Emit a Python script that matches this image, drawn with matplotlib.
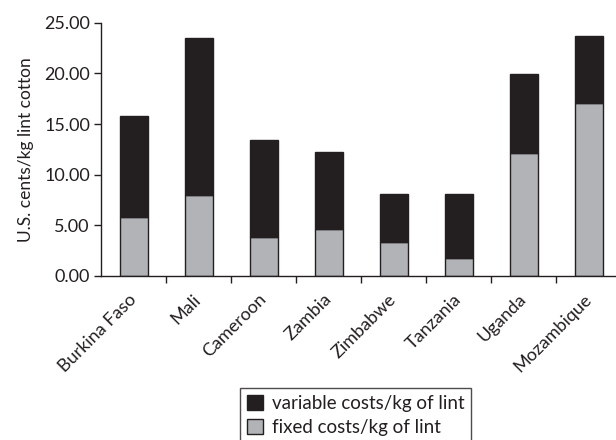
import matplotlib
matplotlib.use("Agg")
import matplotlib.pyplot as plt
import numpy as np
from matplotlib.ticker import FixedLocator, NullFormatter

countries = ["Burkina Faso", "Mali", "Cameroon", "Zambia", "Zimbabwe", "Tanzania", "Uganda", "Mozambique"]
fixed_costs = [5.83, 8.0, 3.85, 4.64, 3.30, 1.72, 12.12, 17.1]
total_costs = [15.8, 23.49, 13.44, 12.25, 8.14, 8.14, 19.96, 23.72]
variable_costs = [t - f for t, f in zip(total_costs, fixed_costs)]
yticks = [0, 5, 10, 15, 20, 25]

plt.rcParams['font.family'] = ['Lato', 'DejaVu Sans']

fig = plt.figure(figsize=(6.16, 4.4), dpi=100)
ax = fig.add_axes([0.164, 0.373, 0.845, 0.575])

x = np.arange(len(countries))
w = 0.43
ax.bar(x, fixed_costs, w, color="#b1b3b6", edgecolor="#231f20", linewidth=1.0,
       label="fixed costs/kg of lint")
ax.bar(x, variable_costs, w, bottom=fixed_costs, color="#231f20", edgecolor="#231f20",
       linewidth=1.0, label="variable costs/kg of lint")

ax.set_xlim(-0.5, len(countries) - 0.5)
ax.set_ylim(0, 25)
ax.set_yticks(yticks)
ax.set_yticklabels([f"{v:.2f}" for v in yticks], fontsize=13, color="#231f20")
ax.set_ylabel("U.S. cents/kg lint cotton", fontsize=12.5, labelpad=7, color="#231f20")

ax.set_xticks(x)
ax.set_xticklabels(countries, rotation=45, ha="right", va="center",
                   rotation_mode="anchor", fontsize=13, color="#231f20")
ax.tick_params(axis="x", which="major", length=0, pad=15)
ax.xaxis.set_minor_locator(FixedLocator(x[:-1] + 0.5))
ax.xaxis.set_minor_formatter(NullFormatter())
ax.tick_params(axis="x", which="minor", length=5, width=1, direction="out", color="#231f20")
ax.tick_params(axis="y", length=5, width=1, direction="out", color="#231f20", pad=3)

for s in ["top", "right"]:
    ax.spines[s].set_visible(False)
for s in ["left", "bottom"]:
    ax.spines[s].set_color("#231f20")
    ax.spines[s].set_linewidth(1)

handles, labels = ax.get_legend_handles_labels()
leg = fig.legend(handles[::-1], labels[::-1], loc="upper left",
                 bbox_to_anchor=(240 / 616, 1 - 388 / 440), borderaxespad=0,
                 fontsize=13.5, frameon=True,
                 fancybox=False, edgecolor="#231f20", handlelength=0.85, handleheight=0.85,
                 handletextpad=0.5, borderpad=0.35, labelspacing=0.4)
for t in leg.get_texts():
    t.set_color("#231f20")
leg.get_frame().set_linewidth(1)

fig.savefig("out.png", dpi=100)
